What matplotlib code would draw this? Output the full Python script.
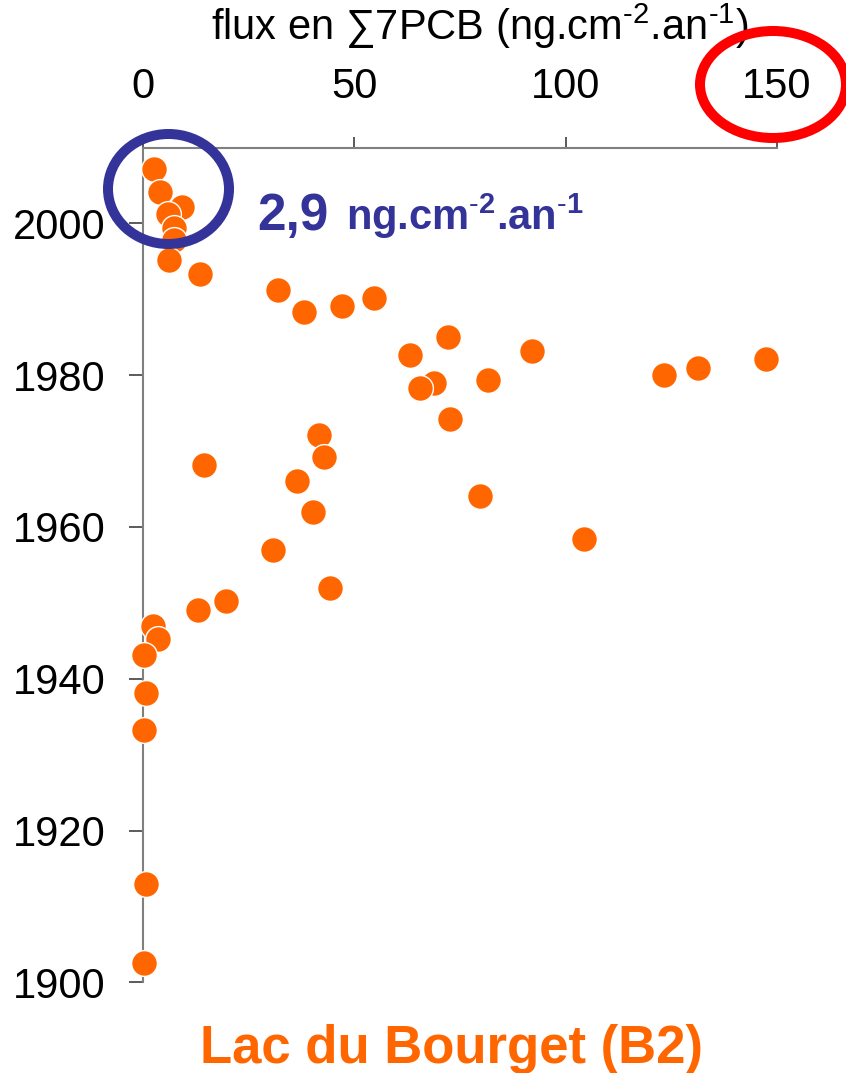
import matplotlib.pyplot as plt
from matplotlib.patches import Ellipse

plt.rcParams['font.family'] = ['Liberation Sans', 'DejaVu Sans']
plt.rcParams['mathtext.fontset'] = 'custom'
plt.rcParams['mathtext.rm'] = 'Liberation Sans'
plt.rcParams['mathtext.it'] = 'Liberation Sans:italic'
plt.rcParams['mathtext.bf'] = 'Liberation Sans:bold'

# flux (ng.cm-2.an-1) vs année, Lac du Bourget carotte B2
flux = [2.6, 4.0, 9.2, 5.9, 7.3, 7.3, 6.2, 13.5,
        31.9, 38.1, 47.1, 54.6,
        63.2, 72.2, 68.8, 65.5, 81.6, 92.0, 72.6,
        123.3, 131.3, 147.4,
        41.6, 42.8, 14.4, 36.4, 40.2, 79.7, 104.3, 30.8, 44.2, 19.6, 13.0,
        2.4, 3.5, 0.2, 0.7, 0.2, 0.7, 0.2]
annee = [2007.2, 2004.1, 2002.1, 2001.2, 1999.4, 1997.8, 1995.2, 1993.3,
         1991.2, 1988.3, 1989.1, 1990.2,
         1982.6, 1985.0, 1979.0, 1978.3, 1979.4, 1983.2, 1974.2,
         1980.0, 1981.0, 1982.1,
         1972.1, 1969.2, 1968.1, 1966.0, 1962.0, 1964.1, 1958.4, 1957.0, 1952.0, 1950.3, 1949.1,
         1947.0, 1945.3, 1943.1, 1938.1, 1933.2, 1912.9, 1902.5]

xticks = [0, 50, 100, 150]
yticks = [1900, 1920, 1940, 1960, 1980, 2000]

W, H = 846, 1073
fig = plt.figure(figsize=(W / 100, H / 100), dpi=100)
ax = fig.add_axes([143 / W, 1 - 982.3 / H, (777 - 143) / W, (982.3 - 147.5) / H])

ax.scatter(flux, annee, s=345, color='#FF6600', edgecolor='white', linewidth=1.0,
           zorder=3, clip_on=False)

ax.set_xlim(0, 150)
ax.set_ylim(1900, 2010)
ax.set_xticks(xticks)
ax.set_yticks(yticks)
ax.xaxis.tick_top()
for s in ['bottom', 'right']:
    ax.spines[s].set_visible(False)
for s in ['top', 'left']:
    ax.spines[s].set_color('#808080')
    ax.spines[s].set_linewidth(1.5)
ax.tick_params(axis='x', direction='out', length=8, width=1.2, color='#404040',
               labelsize=30, pad=21)
ax.tick_params(axis='y', direction='out', length=10, width=1.2, color='#404040',
               labelsize=30, pad=17)

# textes
fig.text(480 / W, 1 - 40 / H, 'flux en \u22117PCB (ng.cm$^{\\text{-2}}$.an$^{\\text{-1}}$)',
         ha='center', va='baseline', fontsize=30)
fig.text(257 / W, 1 - 230 / H, '2,9', ha='left', va='baseline', fontsize=37,
         fontweight='bold', color='#333399')
fig.text(346 / W, 1 - 230 / H, r'ng.cm$^{\mathbf{\text{-}2}}$.an$^{\mathbf{\text{-}1}}$',
         ha='left', va='baseline', fontsize=30, fontweight='bold', color='#333399')
fig.text(451 / W, 1 - 1063 / H, 'Lac du Bourget (B2)', ha='center', va='baseline',
         fontsize=38, fontweight='bold', color='#FF6600')

# cercles de mise en évidence
fig.add_artist(Ellipse((168.5 / W, 1 - 189 / H), 121 / W, 110 / H, transform=fig.transFigure,
                       fill=False, edgecolor='#333399', linewidth=7.2, zorder=5))
fig.add_artist(Ellipse((773 / W, 1 - 84.5 / H), 146 / W, 107 / H, transform=fig.transFigure,
                       fill=False, edgecolor='#FF0000', linewidth=7.2, zorder=5))

fig.savefig('out.png', dpi=100)
